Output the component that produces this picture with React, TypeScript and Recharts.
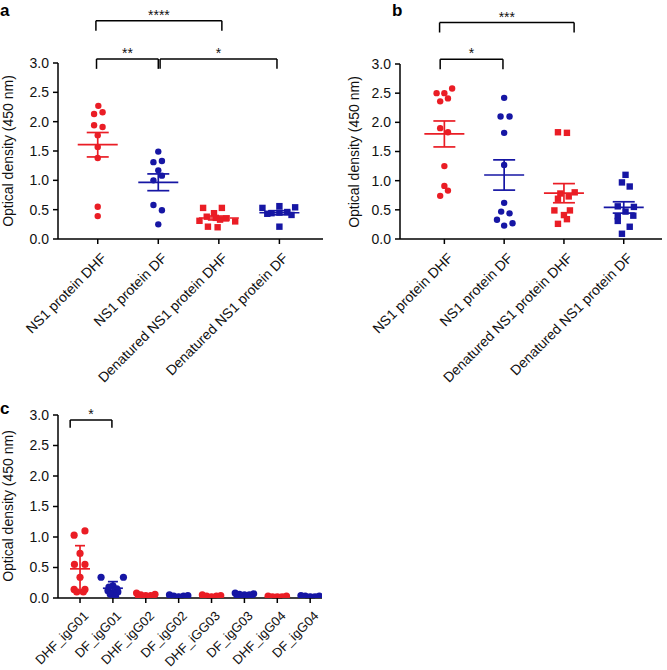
import React from 'react';
import { ScatterChart, Scatter, XAxis, YAxis, ErrorBar, ReferenceLine } from 'recharts';

const RED = '#ea1d25';
const BLUE = '#1616a4';
const FONT = '"Liberation Sans", Arial, Helvetica, sans-serif';

const Y_TICKS = [0, 0.5, 1, 1.5, 2, 2.5, 3];
const Y_LABEL = 'Optical density (450 nm)';

// panel a
const A_CATEGORIES = ['NS1 protein DHF', 'NS1 protein DF', 'Denatured NS1 protein DHF', 'Denatured NS1 protein DF'];
const A_NS1_DHF = [2.27, 2.16, 2.13, 1.94, 1.91, 1.77, 1.57, 1.38, 0.55, 0.39];
const A_NS1_DHF_JIT = [0.01, 0.08, -0.06, -0.06, 0.08, 0, 0, 0, 0, 0];
const A_NS1_DF = [1.49, 1.33, 1.31, 1.17, 1.08, 1.0, 0.58, 0.49, 0.25];
const A_NS1_DF_JIT = [0, 0.06, -0.08, 0, 0.06, -0.08, -0.08, 0.06, 0];
const A_DEN_DHF = [0.53, 0.53, 0.44, 0.38, 0.36, 0.35, 0.33, 0.31, 0.3, 0.21, 0.2];
const A_DEN_DHF_JIT = [-0.26, 0.05, -0.08, -0.2, -0.05, 0.12, 0.02, -0.32, 0.27, -0.18, -0.02];
const A_DEN_DF = [0.56, 0.54, 0.53, 0.46, 0.45, 0.44, 0.43, 0.41, 0.21];
const A_DEN_DF_JIT = [0, 0.26, -0.28, 0.13, 0, -0.13, -0.2, 0.2, 0];

// panel b
const B_CATEGORIES = A_CATEGORIES;
const B_NS1_DHF = [2.5, 2.5, 2.58, 2.36, 2.41, 1.9, 1.83, 1.25, 0.91, 0.83, 0.74];
const B_NS1_DHF_JIT = [-0.13, 0, 0.13, -0.07, 0.06, -0.07, 0.06, 0, 0, 0.06, -0.07];
const B_NS1_DF = [2.42, 2.1, 2.1, 1.82, 1.27, 0.62, 0.47, 0.44, 0.33, 0.27, 0.23];
const B_NS1_DF_JIT = [0, -0.06, 0.09, 0, 0, 0, -0.05, 0.09, -0.12, 0.14, 0];
const B_DEN_DHF = [1.83, 1.82, 0.8, 0.78, 0.73, 0.69, 0.49, 0.49, 0.41, 0.34, 0.26];
const B_DEN_DHF_JIT = [-0.1, 0.05, 0.18, -0.06, 0.08, -0.1, -0.16, 0.1, 0, 0.05, -0.1];
const B_DEN_DF = [1.1, 0.97, 0.9, 0.56, 0.55, 0.47, 0.4, 0.39, 0.31, 0.21, 0.09];
const B_DEN_DF_JIT = [0.03, -0.03, 0.1, -0.1, 0.17, 0.03, 0.16, -0.1, -0.1, 0.1, -0.03];

// panel c
const C_CATEGORIES = ['DHF_igG01', 'DF_igG01', 'DHF_igG02', 'DF_igG02', 'DHF_iGG03', 'DF_igG03', 'DHF_igG04', 'DF_igG04'];
const C_DHF_G01 = [1.03, 1.1, 0.73, 0.55, 0.55, 0.34, 0.14, 0.14, 0.1, 0.1];
const C_DHF_G01_JIT = [-0.18, 0.15, 0, -0.17, 0.15, 0, -0.18, 0.15, -0.1, 0.1];
const C_DF_G01 = [0.34, 0.34, 0.2, 0.18, 0.15, 0.12, 0.1, 0.08, 0.06, 0.03];
const C_DF_G01_JIT = [-0.36, 0.32, 0, -0.12, 0.12, -0.15, 0.15, 0, -0.08, 0.08];
const C_DHF_G02 = [0.08, 0.06, 0.05, 0.04, 0.04, 0.03, 0.02, 0.02, 0.01, 0.01];
const C_DF_G02 = [0.05, 0.04, 0.03, 0.03, 0.02, 0.02, 0.02, 0.01, 0.01, 0.01];
const C_DHF_G03 = [0.05, 0.04, 0.03, 0.03, 0.02, 0.02, 0.01, 0.01, 0.01, 0.01];
const C_DF_G03 = [0.08, 0.07, 0.06, 0.05, 0.05, 0.04, 0.04, 0.03, 0.03, 0.02];
const C_DHF_G04 = [0.03, 0.03, 0.02, 0.02, 0.02, 0.01, 0.01, 0.01, 0.01, 0.0];
const C_DF_G04 = [0.04, 0.03, 0.03, 0.02, 0.02, 0.02, 0.01, 0.01, 0.01, 0.01];
const C_LOW_JIT = [-0.28, 0.28, -0.15, 0.15, 0, -0.22, 0.22, -0.08, 0.08, 0];

type Group = { values: number[]; jitter: number[]; color: string; marker: 'circle' | 'square'; spread: 'sem' | 'sd' };
type Bracket = { x1: number; x2: number; yBar: number; yLeg: number; label: string };

const mean = (v: number[]) => v.reduce((s, d) => s + d, 0) / v.length;
const sd = (v: number[]) => {
  const m = mean(v);
  return Math.sqrt(v.reduce((s, d) => s + (d - m) ** 2, 0) / (v.length - 1));
};

const A_GROUPS: Group[] = [
  { values: A_NS1_DHF, jitter: A_NS1_DHF_JIT, color: RED, marker: 'circle', spread: 'sem' },
  { values: A_NS1_DF, jitter: A_NS1_DF_JIT, color: BLUE, marker: 'circle', spread: 'sem' },
  { values: A_DEN_DHF, jitter: A_DEN_DHF_JIT, color: RED, marker: 'square', spread: 'sem' },
  { values: A_DEN_DF, jitter: A_DEN_DF_JIT, color: BLUE, marker: 'square', spread: 'sem' },
];
const B_GROUPS: Group[] = [
  { values: B_NS1_DHF, jitter: B_NS1_DHF_JIT, color: RED, marker: 'circle', spread: 'sem' },
  { values: B_NS1_DF, jitter: B_NS1_DF_JIT, color: BLUE, marker: 'circle', spread: 'sem' },
  { values: B_DEN_DHF, jitter: B_DEN_DHF_JIT, color: RED, marker: 'square', spread: 'sem' },
  { values: B_DEN_DF, jitter: B_DEN_DF_JIT, color: BLUE, marker: 'square', spread: 'sem' },
];
const C_GROUPS: Group[] = [
  { values: C_DHF_G01, jitter: C_DHF_G01_JIT, color: RED, marker: 'circle', spread: 'sd' },
  { values: C_DF_G01, jitter: C_DF_G01_JIT, color: BLUE, marker: 'circle', spread: 'sd' },
  { values: C_DHF_G02, jitter: C_LOW_JIT, color: RED, marker: 'circle', spread: 'sd' },
  { values: C_DF_G02, jitter: C_LOW_JIT, color: BLUE, marker: 'circle', spread: 'sd' },
  { values: C_DHF_G03, jitter: C_LOW_JIT, color: RED, marker: 'circle', spread: 'sd' },
  { values: C_DF_G03, jitter: C_LOW_JIT, color: BLUE, marker: 'circle', spread: 'sd' },
  { values: C_DHF_G04, jitter: C_LOW_JIT, color: RED, marker: 'circle', spread: 'sd' },
  { values: C_DF_G04, jitter: C_LOW_JIT, color: BLUE, marker: 'circle', spread: 'sd' },
];

const A_BRACKETS: Bracket[] = [
  { x1: -0.03, x2: 2.05, yBar: 3.72, yLeg: 3.55, label: '****' },
  { x1: -0.02, x2: 1.0, yBar: 3.07, yLeg: 2.9, label: '**' },
  { x1: 1.03, x2: 2.96, yBar: 3.07, yLeg: 2.9, label: '*' },
];
const B_BRACKETS: Bracket[] = [
  { x1: -0.08, x2: 2.17, yBar: 3.71, yLeg: 3.54, label: '***' },
  { x1: -0.07, x2: 0.98, yBar: 3.08, yLeg: 2.91, label: '*' },
];
const C_BRACKETS: Bracket[] = [{ x1: -0.3, x2: 0.97, yBar: 2.92, yLeg: 2.79, label: '*' }];

const axisStyle = { stroke: '#000', strokeWidth: 1.5 };

type PanelProps = {
  left: number;
  top: number;
  width: number;
  height: number;
  plotLeft: number;
  plotTop: number;
  plotRight: number;
  plotBottom: number;
  xDomain: [number, number];
  categories: string[];
  groups: Group[];
  brackets: Bracket[];
  meanHalf: number;
  capHalf: number;
  dotR: number;
  labelSize: number;
  labelDx: number;
  labelDy: number;
};

const Panel = (p: PanelProps) => {
  const xAxisHeight = p.height - p.plotBottom;
  const renderTick = (t: any) => (
    <text
      x={0}
      y={0}
      dy="0.35em"
      transform={`translate(${t.x + p.labelDx},${p.plotBottom + p.labelDy}) rotate(-45)`}
      textAnchor="end"
      fontSize={p.labelSize}
      fontFamily={FONT}
      fill="#111"
    >
      {p.categories[t.payload.value]}
    </text>
  );

  const pointScatters = p.groups.map((g, i) => (
    <Scatter
      key={`pts-${i}`}
      data={g.values.map((v, k) => ({ x: i + g.jitter[k], y: v }))}
      isAnimationActive={false}
      shape={(s: any) =>
        g.marker === 'circle' ? (
          <circle cx={s.cx} cy={s.cy} r={p.dotR} fill={g.color} />
        ) : (
          <rect x={s.cx - p.dotR} y={s.cy - p.dotR} width={p.dotR * 2} height={p.dotR * 2} fill={g.color} />
        )
      }
    />
  ));

  // mean line with SEM (a, b) or SD (c) whiskers
  const meanScatters = p.groups.map((g, i) => {
    const m = mean(g.values);
    const e = g.spread === 'sem' ? sd(g.values) / Math.sqrt(g.values.length) : sd(g.values);
    return (
      <Scatter
        key={`mean-${i}`}
        data={[{ x: i, y: m, err: e }]}
        isAnimationActive={false}
        shape={(s: any) => (
          <line x1={s.cx - p.meanHalf} x2={s.cx + p.meanHalf} y1={s.cy} y2={s.cy} stroke={g.color} strokeWidth={1.7} />
        )}
      >
        <ErrorBar dataKey="err" direction="y" width={p.capHalf} stroke={g.color} strokeWidth={1.7} />
      </Scatter>
    );
  });

  const bracketLines = p.brackets.flatMap((b, i) => [
    <ReferenceLine
      key={`bl-${i}`}
      segment={[{ x: b.x1, y: b.yLeg }, { x: b.x1, y: b.yBar }]}
      stroke="#000"
      strokeWidth={1.5}
      ifOverflow="visible"
    />,
    <ReferenceLine
      key={`br-${i}`}
      segment={[{ x: b.x2, y: b.yLeg }, { x: b.x2, y: b.yBar }]}
      stroke="#000"
      strokeWidth={1.5}
      ifOverflow="visible"
    />,
    <ReferenceLine
      key={`bb-${i}`}
      segment={[{ x: b.x1, y: b.yBar }, { x: b.x2, y: b.yBar }]}
      stroke="#000"
      strokeWidth={1.5}
      ifOverflow="visible"
      label={{ value: b.label, position: 'top', offset: 1, fontSize: 14, fill: '#111', fontFamily: FONT }}
    />,
  ]);

  return (
    <div style={{ position: 'absolute', left: p.left, top: p.top }}>
      <ScatterChart
        width={p.width}
        height={p.height}
        margin={{ top: p.plotTop, right: p.width - p.plotRight, bottom: 0, left: 0 }}
      >
        <XAxis
          type="number"
          dataKey="x"
          domain={p.xDomain}
          allowDataOverflow
          ticks={p.categories.map((_, i) => i)}
          interval={0}
          height={xAxisHeight}
          axisLine={axisStyle}
          tickLine={axisStyle}
          tickSize={5}
          tick={renderTick}
        />
        <YAxis
          type="number"
          dataKey="y"
          domain={[0, 3]}
          allowDataOverflow
          ticks={Y_TICKS}
          interval={0}
          width={p.plotLeft}
          axisLine={axisStyle}
          tickLine={axisStyle}
          tickSize={5}
          tickMargin={4}
          tickFormatter={(v: number) => v.toFixed(1)}
          tick={{ fontSize: 14, fill: '#111', fontFamily: FONT }}
        />
        {pointScatters}
        {meanScatters}
        {bracketLines}
      </ScatterChart>
    </div>
  );
};

const App = () => (
  <div style={{ position: 'absolute', left: 0, top: 0, width: 667, height: 670, overflow: 'hidden', background: '#fff', fontFamily: FONT }}>
    <Panel
      left={0}
      top={0}
      width={333}
      height={400}
      plotLeft={58}
      plotTop={63}
      plotRight={323}
      plotBottom={239}
      xDomain={[-0.656, 3.72]}
      categories={A_CATEGORIES}
      groups={A_GROUPS}
      brackets={A_BRACKETS}
      meanHalf={20}
      capHalf={11}
      dotR={3.2}
      labelSize={14}
      labelDx={6}
      labelDy={16.5}
    />
    <Panel
      left={334}
      top={0}
      width={333}
      height={400}
      plotLeft={66}
      plotTop={64}
      plotRight={328}
      plotBottom={239}
      xDomain={[-0.742, 3.64]}
      categories={B_CATEGORIES}
      groups={B_GROUPS}
      brackets={B_BRACKETS}
      meanHalf={20}
      capHalf={11}
      dotR={3.2}
      labelSize={14}
      labelDx={6}
      labelDy={16.5}
    />
    <Panel
      left={0}
      top={352}
      width={333}
      height={318}
      plotLeft={58}
      plotTop={63}
      plotRight={322}
      plotBottom={246}
      xDomain={[-0.67, 7.36]}
      categories={C_CATEGORIES}
      groups={C_GROUPS}
      brackets={C_BRACKETS}
      meanHalf={10}
      capHalf={5}
      dotR={3.6}
      labelSize={13}
      labelDx={6}
      labelDy={15.5}
    />
    <svg width={667} height={670} style={{ position: 'absolute', left: 0, top: 0, pointerEvents: 'none' }}>
      <g fontFamily={FONT} fill="#000">
        <text x={0} y={16} fontSize={17} fontWeight="bold">a</text>
        <text x={392} y={16} fontSize={17} fontWeight="bold">b</text>
        <text x={0} y={414} fontSize={17} fontWeight="bold">c</text>
        <text x={0} y={0} transform="translate(13,151) rotate(-90)" textAnchor="middle" fontSize={14} fill="#111">
          {Y_LABEL}
        </text>
        <text x={0} y={0} transform="translate(359,152) rotate(-90)" textAnchor="middle" fontSize={14} fill="#111">
          {Y_LABEL}
        </text>
        <text x={0} y={0} transform="translate(13,506) rotate(-90)" textAnchor="middle" fontSize={14} fill="#111">
          {Y_LABEL}
        </text>
      </g>
    </svg>
  </div>
);

export default App;
